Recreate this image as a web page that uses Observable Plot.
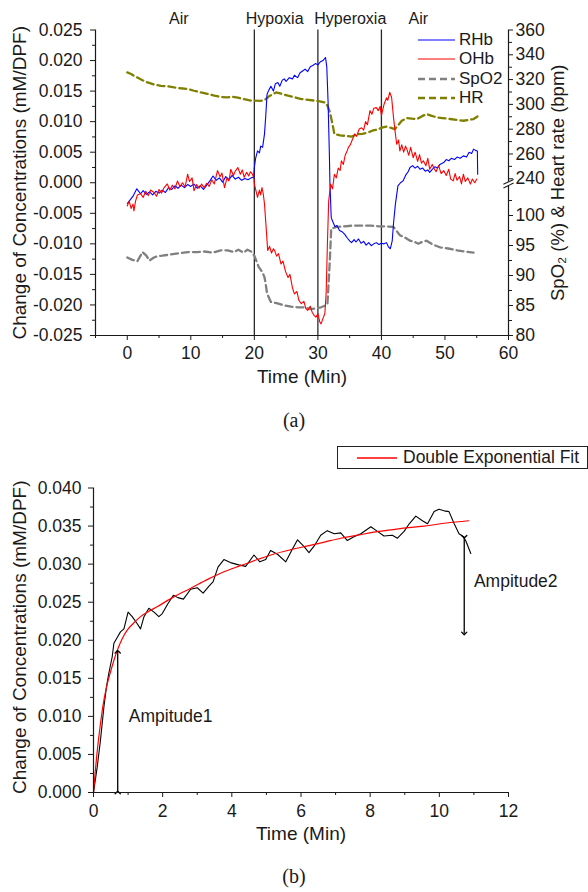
<!DOCTYPE html>
<html><head><meta charset="utf-8">
<script src="https://cdn.jsdelivr.net/npm/d3@7"></script>
<script src="https://cdn.jsdelivr.net/npm/@observablehq/plot@0.6"></script>
<style>
body{margin:0;background:#fff;}
#root{position:relative;width:588px;height:892px;overflow:hidden;background:#fff;font-family:'Liberation Sans',Arial,sans-serif;color:#1a1a1a;}
.abs{position:absolute;}
</style></head><body><div id="root"></div>
<script>
// ---------- Panel (a) data ----------
const rhbTime = [0,0.3,0.6,0.9,1.2,1.5,1.8,2.1,2.5,3.0,3.5,4.0,4.5,5.0,5.5,6.0,6.5,7.0,7.5,8.0,8.5,9.0,9.5,10.0,10.5,11.0,11.5,12.0,12.5,13.0,13.5,14.0,14.5,15.0,15.5,16.0,16.5,17.0,17.5,18.0,18.5,19.0,19.5,19.9,20.0,20.2,20.5,20.8,21.0,21.3,21.6,21.8,22.0,22.3,22.6,23.0,23.3,23.7,24.0,24.4,24.7,25.0,25.5,26.0,26.3,26.8,27.2,27.6,28.0,28.4,28.8,29.2,29.6,30.0,30.4,30.8,31.2,31.4,31.6,31.8,31.9,32.1,32.4,32.7,33.0,33.4,33.8,34.2,34.6,35.0,35.3,35.7,36.0,36.4,36.8,37.2,37.6,38.0,38.4,38.8,39.2,39.6,40.0,40.4,40.8,41.1,41.4,41.7,41.9,42.2,42.6,43.0,43.4,43.8,44.2,44.5,44.9,45.3,45.7,46.1,46.5,46.9,47.3,47.6,48.0,48.4,48.8,49.2,49.8,50.2,50.6,51.0,51.5,51.9,52.4,52.9,53.4,53.8,54.2,54.5,54.8,55.1,55.15];
const rhbValue = [-0.0034,-0.0030,-0.0026,-0.0022,-0.0016,-0.0010,-0.0014,-0.0018,-0.0013,-0.0019,-0.0015,-0.0020,-0.0014,-0.0017,-0.0012,-0.0016,-0.0008,-0.0011,-0.0005,-0.0009,-0.0004,-0.0008,-0.0003,-0.0006,-0.0002,-0.0009,-0.0005,-0.0011,-0.0004,0.0003,0.0011,0.0004,0.0008,0.0001,0.0010,0.0005,0.0012,0.0006,0.0009,0.0004,0.0007,0.0005,0.0008,0.0009,0.0025,0.0040,0.0052,0.0049,0.0060,0.0058,0.0080,0.0110,0.0145,0.0152,0.0158,0.0150,0.0162,0.0164,0.0158,0.0168,0.0170,0.0166,0.0172,0.0170,0.0176,0.0172,0.0180,0.0183,0.0186,0.0182,0.0190,0.0192,0.0195,0.0193,0.0198,0.0200,0.0205,0.0190,0.0134,0.0050,-0.0002,-0.0057,-0.0065,-0.0072,-0.0070,-0.0078,-0.0080,-0.0084,-0.0090,-0.0095,-0.0098,-0.0093,-0.0097,-0.0092,-0.0099,-0.0096,-0.0102,-0.0098,-0.0103,-0.0100,-0.0098,-0.0101,-0.0099,-0.0100,-0.0098,-0.0105,-0.0108,-0.0095,-0.0067,-0.0035,-0.0005,0.0000,0.0003,0.0012,0.0018,0.0025,0.0028,0.0024,0.0027,0.0022,0.0024,0.0019,0.0021,0.0017,0.0022,0.0026,0.0024,0.0030,0.0033,0.0038,0.0036,0.0040,0.0038,0.0042,0.0040,0.0044,0.0042,0.0050,0.0048,0.0055,0.0053,0.0052,0.0014];

const ohbTime = [0,0.3,0.6,0.9,1.05,1.3,1.6,2.1,2.5,2.9,3.3,3.7,4.2,4.6,5.0,5.4,5.8,6.3,6.7,7.1,7.5,7.9,8.3,8.7,9.1,9.5,9.8,10.2,10.5,10.9,11.3,11.7,12.1,12.5,12.9,13.3,13.7,14.2,14.6,14.9,15.3,15.7,16.0,16.3,16.7,17.0,17.4,17.8,18.1,18.4,18.8,19.1,19.4,19.7,19.95,20.0,20.3,20.5,20.8,21.0,21.2,21.4,21.6,21.9,22.1,22.4,22.7,23.0,23.2,23.5,23.8,24.2,24.5,24.9,25.3,25.6,26.0,26.3,26.7,27.0,27.4,27.8,28.1,28.4,28.8,29.1,29.4,29.7,30.0,30.3,30.5,30.8,31.1,31.3,31.5,31.7,32.0,32.3,32.6,32.9,33.2,33.5,33.7,34.0,34.3,34.6,34.8,35.1,35.4,35.8,36.1,36.5,36.9,37.2,37.5,37.8,38.2,38.5,38.8,39.2,39.5,39.8,40.0,40.4,40.8,41.0,41.3,41.6,41.9,42.2,42.4,42.7,42.9,43.2,43.5,43.8,44.0,44.3,44.6,45.0,45.3,45.7,46.0,46.3,46.6,47.0,47.3,47.6,48.0,48.2,48.6,49.0,49.4,49.8,50.2,50.6,50.9,51.3,51.6,51.9,52.3,52.6,52.9,53.2,53.6,54.0,54.3,54.7,55.0];
const ohbValue = [-0.0038,-0.0030,-0.0042,-0.0035,-0.0046,-0.0030,-0.0020,-0.0018,-0.0024,-0.0014,-0.0021,-0.0012,-0.0016,-0.0022,-0.0011,-0.0017,-0.0008,-0.0002,-0.0012,-0.0004,-0.0010,0.0003,-0.0006,0.0000,-0.0007,0.0014,0.0002,0.0008,-0.0013,-0.0003,-0.0009,-0.0002,-0.0008,-0.0001,-0.0006,0.0005,-0.0002,0.0020,0.0010,0.0016,-0.0008,0.0008,0.0003,0.0022,0.0012,0.0019,0.0025,0.0014,0.0021,0.0009,0.0017,0.0011,0.0018,0.0014,0.0006,-0.0002,-0.0015,-0.0024,-0.0012,-0.0020,-0.0008,-0.0018,-0.0035,-0.0080,-0.0111,-0.0104,-0.0115,-0.0108,-0.0111,-0.0120,-0.0116,-0.0133,-0.0128,-0.0145,-0.0155,-0.0150,-0.0172,-0.0182,-0.0178,-0.0192,-0.0198,-0.0194,-0.0206,-0.0209,-0.0202,-0.0212,-0.0217,-0.0220,-0.0214,-0.0228,-0.0231,-0.0222,-0.0214,-0.0180,-0.0100,-0.0030,-0.0002,-0.0010,0.0014,0.0008,0.0024,0.0020,0.0036,0.0030,0.0045,0.0052,0.0058,0.0062,0.0070,0.0080,0.0076,0.0088,0.0090,0.0086,0.0100,0.0095,0.0118,0.0112,0.0122,0.0123,0.0118,0.0125,0.0110,0.0128,0.0139,0.0135,0.0148,0.0140,0.0107,0.0080,0.0063,0.0070,0.0052,0.0062,0.0050,0.0060,0.0055,0.0045,0.0058,0.0041,0.0050,0.0035,0.0046,0.0032,0.0036,0.0028,0.0040,0.0022,0.0030,0.0025,0.0018,0.0028,0.0015,0.0020,0.0012,0.0022,0.0006,0.0003,0.0015,0.0004,0.0010,-0.0002,0.0014,0.0002,0.0008,-0.0002,0.0006,0.0000,0.0006];

const spo2Time = [0,0.8,1.6,2.4,3.0,3.5,4.2,4.7,5.5,6.8,8.0,9.5,11.0,12.1,13.5,14.7,15.8,16.8,17.5,18.3,18.9,19.5,20.0,20.7,21.3,21.6,21.8,22.0,22.6,23.5,24.7,25.8,26.8,27.8,28.9,29.6,30.5,31.2,31.5,31.7,31.9,32.1,33.0,34.2,35.3,36.8,38.4,39.5,40.5,41.9,42.9,43.6,44.5,45.2,45.8,46.4,47.1,48.0,49.2,50.5,51.9,53.0,54.5];
const spo2Value = [93.0,92.6,92.4,93.9,93.3,92.5,93.0,93.2,93.3,93.5,93.7,93.9,93.9,94.0,93.8,94.2,94.2,93.9,94.3,93.8,94.3,94.0,93.3,91.4,90.5,89.7,88.5,87.0,85.6,85.4,85.0,84.8,84.7,84.7,84.4,84.5,84.7,85.0,85.2,89.0,93.0,97.8,98.1,98.2,98.3,98.3,98.3,98.2,98.2,98.1,96.7,96.4,95.8,95.6,95.3,95.6,95.8,95.2,94.7,94.5,94.2,94.0,93.8];

const hrTime = [0,0.6,1.2,1.6,2.4,3.2,4.2,5.3,6.3,7.4,8.4,9.5,10.5,11.6,12.6,13.7,14.7,15.8,16.5,17.4,18.4,19.5,20.0,21.0,21.6,22.3,23.4,24.3,25.3,26.3,27.4,28.5,29.5,30.3,31.1,31.5,31.9,32.3,32.6,33.5,34.5,35.3,36.2,37.0,37.9,38.7,39.5,40.2,40.8,41.5,42.1,42.6,43.2,44.0,44.8,45.6,46.4,47.1,47.8,48.7,49.6,50.8,51.8,52.9,53.8,54.5,55.3];
const hrValue = [325.8,324.5,322.5,321.7,319.5,317.7,316.0,315.0,314.6,313.7,313.0,312.4,311.0,309.6,308.5,307.0,306.0,305.6,306.2,305.4,304.2,303.0,303.0,302.8,303.5,306.5,309.6,308.5,307.0,305.8,304.3,303.6,303.0,302.5,301.6,299.0,293.5,284.0,276.0,275.0,274.5,274.0,276.0,276.2,277.4,279.0,280.0,281.5,282.0,281.0,280.0,283.0,286.8,289.0,288.5,288.2,290.5,292.2,291.0,289.5,289.0,288.2,287.5,286.8,287.5,288.2,290.8];

const phaseTimes = [20, 30, 40];
const phaseLabels = ["Air", "Hypoxia", "Hyperoxia", "Air"];
const phaseLabelTime = [8.1, 23.2, 35.1, 45.8];

const xDomainTop = [-5, 60];
const yDomainTop = [-0.025, 0.025];
const xMajorTop = [0, 10, 20, 30, 40, 50, 60];
const xMinorTop = [-5, 5, 15, 25, 35, 45, 55];
const yMajorTop = [-0.025, -0.020, -0.015, -0.010, -0.005, 0.000, 0.005, 0.010, 0.015, 0.020, 0.025];
const yMinorTop = [-0.0225, -0.0175, -0.0125, -0.0075, -0.0025, 0.0025, 0.0075, 0.0125, 0.0175, 0.0225];
const hrMajor = [240, 260, 280, 300, 320, 340, 360];
const hrMinor = [250, 270, 290, 310, 330, 350];
const spo2Major = [80, 85, 90, 95, 100];
const spo2Minor = [82.5, 87.5, 92.5, 97.5, 102.5];
const hrBreak = 237.5, spo2Break = 105;

const legendNames = ["RHb", "OHb", "SpO2", "HR"];
const legendColors = ["#0000ff", "#ff0000", "#808080", "#808000"];
const legendDash = [null, null, "7,4", "7,4"];

// ---------- Panel (b) data ----------
const rawTime = [0,0.106,0.2,0.3,0.376,0.44,0.54,0.59,0.69,0.78,0.88,1.0,1.12,1.26,1.36,1.46,1.6,1.75,1.89,1.99,2.15,2.31,2.44,2.6,2.81,3.0,3.17,3.34,3.46,3.6,3.77,3.96,4.2,4.4,4.64,4.81,4.98,5.12,5.32,5.56,5.73,5.9,6.09,6.23,6.4,6.57,6.76,6.96,7.15,7.34,7.53,7.73,8.02,8.21,8.4,8.64,8.79,8.98,9.13,9.32,9.51,9.66,9.85,9.99,10.14,10.28,10.43,10.57,10.7,10.77,10.91];
const rawValue = [0.0000,0.0033,0.0068,0.0112,0.0139,0.0156,0.0178,0.0196,0.0204,0.0211,0.0215,0.0237,0.0231,0.0222,0.0215,0.0231,0.0242,0.0237,0.0231,0.0235,0.0248,0.0259,0.0256,0.0254,0.0267,0.0269,0.0262,0.0271,0.0277,0.0296,0.0306,0.0302,0.0299,0.0297,0.0312,0.0303,0.0306,0.0318,0.0313,0.0303,0.0318,0.0332,0.0323,0.0315,0.0325,0.0338,0.0344,0.0340,0.0341,0.0331,0.0336,0.0340,0.0349,0.0343,0.0337,0.0338,0.0334,0.0343,0.0353,0.0363,0.0357,0.0353,0.0369,0.0372,0.0370,0.0369,0.0353,0.0340,0.0336,0.0330,0.0314];
const fitTime = [0,0.05,0.1,0.2,0.3,0.4,0.49,0.6,0.69,0.83,0.97,1.15,1.36,1.6,1.84,2.32,2.8,3.3,3.77,4.25,4.74,5.2,5.71,6.2,6.68,7.15,7.64,8.1,8.6,9.1,9.57,10.2,10.85];
const fitValue = [0,0.0027,0.0051,0.0090,0.0121,0.0143,0.0158,0.0175,0.0187,0.0202,0.0213,0.0222,0.0231,0.0238,0.0244,0.0257,0.0268,0.0280,0.0290,0.0298,0.0306,0.0313,0.0319,0.0324,0.0329,0.0334,0.0338,0.0342,0.0345,0.0348,0.0350,0.0354,0.0357];

const ampTime = [0.7, 10.72];
const ampFrom = [0.0, 0.0336];
const ampTo = [0.0185, 0.0209];
const ampLabel = ["Ampitude1", "Ampitude2"];
const ampLabelTime = [1.02, 11.0];
const ampLabelValue = [0.0100, 0.0277];

const xDomainBot = [0, 12];
const yDomainBot = [0, 0.040];
const xMajorBot = [0, 2, 4, 6, 8, 10, 12];
const xMinorBot = [1, 3, 5, 7, 9, 11];
const yMajorBot = [0, 0.005, 0.010, 0.015, 0.020, 0.025, 0.030, 0.035, 0.040];
const yMinorBot = [0.0025, 0.0075, 0.0125, 0.0175, 0.0225, 0.0275, 0.0325, 0.0375];
const fitLegend = "Double Exponential Fit";

// ---------- axis mappings for the right-hand (SpO2 / HR) axis ----------
const hrToY = v => 0.025 - (360 - v) * 0.0002029;
const spo2ToY = v => -0.025 + (v - 80) * 0.000982;

const zip = (ts, vs) => ts.map((t, i) => ({t, v: vs[i]}));
const rhb = zip(rhbTime, rhbValue);
const ohb = zip(ohbTime, ohbValue);
const spo2 = zip(spo2Time, spo2Value);
const hr = zip(hrTime, hrValue);
const raw = zip(rawTime, rawValue);
const fit = zip(fitTime, fitValue);
const amps = ampTime.map((t, i) => ({t, y1: ampFrom[i], y2: ampTo[i]}));
const ampTexts = ampLabel.map((l, i) => ({l, t: ampLabelTime[i], v: ampLabelValue[i]}));
const phases = phaseLabels.map((l, i) => ({l, t: phaseLabelTime[i]}));

const rightLabels = new Map();
hrMajor.forEach(v => rightLabels.set(hrToY(v), String(v)));
spo2Major.forEach(v => rightLabels.set(spo2ToY(v), String(v)));

const FONT = "'Liberation Sans', Arial, sans-serif";
const styleBase = {fontFamily: FONT, fontSize: "17.5px", color: "#1a1a1a", background: "transparent", overflow: "visible"};
const fmt3 = d => (Math.abs(d) < 1e-12 ? 0 : d).toFixed(3);
const blank = () => "";

const root = document.getElementById("root");

// ---------- Panel (a) ----------
const brk = [hrToY(hrBreak), spo2ToY(spo2Break)];
const topPlot = Plot.plot({
  width: 588, height: 400,
  marginTop: 29.5, marginBottom: 65, marginLeft: 95, marginRight: 80,
  style: styleBase,
  x: {domain: xDomainTop, label: null},
  y: {domain: yDomainTop, label: null},
  marks: [
    Plot.ruleX(phaseTimes, {stroke: "#2a2a2a", strokeWidth: 1.3}),
    Plot.line(spo2, {x: "t", y: d => spo2ToY(d.v), stroke: "#808080", strokeWidth: 2.3, strokeDasharray: "7,4"}),
    Plot.line(hr, {x: "t", y: d => hrToY(d.v), stroke: "#808000", strokeWidth: 2.3, strokeDasharray: "7,4"}),
    Plot.line(rhb, {x: "t", y: "v", stroke: "#0000ff", strokeWidth: 1.1}),
    Plot.line(ohb, {x: "t", y: "v", stroke: "#ff0000", strokeWidth: 1.1}),
    Plot.ruleX([xDomainTop[0]], {stroke: "#1a1a1a", strokeWidth: 1.2}),
    Plot.ruleY([yDomainTop[0]], {stroke: "#1a1a1a", strokeWidth: 1.2}),
    Plot.ruleX([{x: xDomainTop[1], y1: hrToY(360), y2: brk[0]}, {x: xDomainTop[1], y1: brk[1], y2: yDomainTop[0]}], {x: "x", y1: "y1", y2: "y2", stroke: "#1a1a1a", strokeWidth: 1.2}),
    Plot.link(brk, {x1: () => xDomainTop[1] - 0.8, x2: () => xDomainTop[1] + 0.8, y1: d => d - 0.0004, y2: d => d + 0.0004, stroke: "#1a1a1a", strokeWidth: 1.1}),
    Plot.axisX({ticks: xMajorTop, tickSize: 5, tickPadding: 6, tickFormat: d => String(d), label: null}),
    Plot.axisX({ticks: xMinorTop, tickSize: 3, tickFormat: blank, label: null}),
    Plot.axisY({ticks: yMajorTop, tickSize: 5, tickPadding: 8, tickFormat: fmt3, label: null}),
    Plot.axisY({ticks: yMinorTop, tickSize: 3, tickFormat: blank, label: null}),
    Plot.axisY({anchor: "right", ticks: hrMajor.map(hrToY).concat(spo2Major.map(spo2ToY)), tickSize: 4, tickPadding: 3, tickFormat: d => rightLabels.get(d), label: null}),
    Plot.axisY({anchor: "right", ticks: hrMinor.map(hrToY).concat(spo2Minor.map(spo2ToY)), tickSize: 3, tickFormat: blank, label: null}),
    Plot.text(phases, {x: "t", text: "l", frameAnchor: "top", lineAnchor: "bottom", dy: -6, fontSize: 16}),
    Plot.text(["Time (Min)"], {frameAnchor: "bottom", dy: 47, fontSize: 19}),
    Plot.text(["Change of Concentrations (mM/DPF)"], {frameAnchor: "left", textAnchor: "middle", dx: -76, rotate: -90, fontSize: 19}),
    Plot.text(["SpO\u2082 (%) & Heart rate (bpm)"], {frameAnchor: "right", textAnchor: "middle", dx: 50, rotate: -90, fontSize: 18.5})
  ]
});
const topDiv = d3.select(root).append("div").attr("class", "abs").style("left", "0px").style("top", "0px");
topDiv.node().appendChild(topPlot);

// legend (a)
const legTop = d3.select(root).append("div").attr("class", "abs").style("left", "418px").style("top", "30px");
legendNames.forEach((name, i) => {
  const row = legTop.append("div").style("position", "absolute").style("left", "0px").style("top", `${i * 19.4}px`)
    .style("height", "20px").style("display", "flex").style("align-items", "center").style("white-space", "nowrap");
  const s = row.append("svg").attr("width", 38).attr("height", 20);
  s.append("line").attr("x1", 0).attr("x2", 37).attr("y1", 10).attr("y2", 10)
    .attr("stroke", legendColors[i]).attr("stroke-width", legendDash[i] ? 2.3 : 1.2)
    .attr("stroke-dasharray", legendDash[i]);
  row.append("span").style("margin-left", "3px").style("font-size", "17px").text(name);
});

d3.select(root).append("div").attr("class", "abs")
  .style("left", "0px").style("width", "588px").style("top", "408px").style("text-align", "center")
  .style("font-family", "'Liberation Serif', 'Times New Roman', serif").style("font-size", "20px").style("line-height", "24px")
  .text("(a)");

// ---------- Panel (b) ----------
const botPlot = Plot.plot({
  width: 588, height: 452,
  marginTop: 47.5, marginBottom: 100, marginLeft: 93, marginRight: 80,
  style: styleBase,
  x: {domain: xDomainBot, label: null},
  y: {domain: yDomainBot, label: null},
  marks: [
    Plot.line(raw, {x: "t", y: "v", stroke: "#000", strokeWidth: 1.1}),
    Plot.line(fit, {x: "t", y: "v", stroke: "#ff0000", strokeWidth: 1.2, curve: "monotone-x"}),
    Plot.link(amps, {x1: "t", x2: "t", y1: "y1", y2: "y2", stroke: "#000", strokeWidth: 1.3, markerStart: "arrow", markerEnd: "arrow"}),
    Plot.text(ampTexts, {x: "t", y: "v", text: "l", textAnchor: "start", fontSize: 17.5}),
    Plot.ruleX([xDomainBot[0]], {stroke: "#1a1a1a", strokeWidth: 1.2}),
    Plot.ruleY([yDomainBot[0]], {stroke: "#1a1a1a", strokeWidth: 1.2}),
    Plot.axisX({ticks: xMajorBot, tickSize: 5, tickPadding: 7, tickFormat: d => String(d), label: null}),
    Plot.axisX({ticks: xMinorBot, tickSize: 3, tickFormat: blank, label: null}),
    Plot.axisY({ticks: yMajorBot, tickSize: 5, tickPadding: 7, tickFormat: fmt3, label: null}),
    Plot.axisY({ticks: yMinorBot, tickSize: 3, tickFormat: blank, label: null}),
    Plot.text(["Time (Min)"], {frameAnchor: "bottom", dy: 47, fontSize: 19}),
    Plot.text(["Change of Concentrations (mM/DPF)"], {frameAnchor: "left", textAnchor: "middle", dx: -74, dy: -3, rotate: -90, fontSize: 19})
  ]
});
const botDiv = d3.select(root).append("div").attr("class", "abs").style("left", "0px").style("top", "440px");
botDiv.node().appendChild(botPlot);

// legend (b)
const legBot = d3.select(root).append("div").attr("class", "abs")
  .style("left", "337px").style("top", "446px").style("width", "249px").style("height", "21px")
  .style("border", "1px solid #222").style("background", "#fff")
  .style("display", "flex").style("align-items", "center").style("white-space", "nowrap");
const ls = legBot.append("svg").attr("width", 64).attr("height", 20);
ls.append("line").attr("x1", 19).attr("x2", 59).attr("y1", 10).attr("y2", 10).attr("stroke", "#ff0000").attr("stroke-width", 1.3);
legBot.append("span").style("font-size", "17.5px").style("margin-left", "1px").text(fitLegend);

d3.select(root).append("div").attr("class", "abs")
  .style("left", "0px").style("width", "588px").style("top", "864px").style("text-align", "center")
  .style("font-family", "'Liberation Serif', 'Times New Roman', serif").style("font-size", "20px").style("line-height", "24px")
  .text("(b)");
</script></body></html>
